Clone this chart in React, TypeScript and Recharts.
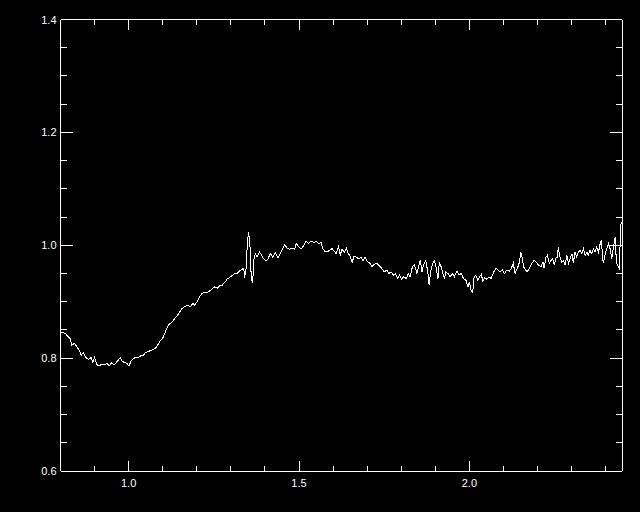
import { LineChart, Line, XAxis, YAxis } from 'recharts';

// reading of the spectrum, split into stretches: [wavelength, ratio]
const blueEdge: [number, number][] = [
  [0.802, 0.846], [0.814, 0.844], [0.821, 0.839], [0.828, 0.835], [0.833, 0.823], [0.841, 0.826],
  [0.848, 0.82], [0.855, 0.814], [0.861, 0.805], [0.867, 0.81], [0.874, 0.801], [0.882, 0.798],
  [0.89, 0.801], [0.895, 0.793], [0.9, 0.802], [0.906, 0.789], [0.913, 0.786], [0.921, 0.789],
  [0.929, 0.788], [0.936, 0.791], [0.943, 0.786], [0.95, 0.792], [0.958, 0.788], [0.965, 0.793],
  [0.975, 0.801], [0.98, 0.795], [0.988, 0.792], [0.994, 0.791], [1.001, 0.786], [1.007, 0.795],
  [1.014, 0.799], [1.021, 0.802], [1.029, 0.801], [1.037, 0.805], [1.043, 0.805], [1.05, 0.81],
  [1.058, 0.812], [1.068, 0.814], [1.078, 0.817], [1.085, 0.823], [1.092, 0.83], [1.099, 0.834],
  [1.105, 0.842], [1.112, 0.853], [1.119, 0.86], [1.126, 0.863], [1.134, 0.869],
];

const rise: [number, number][] = [
  [1.147, 0.879], [1.157, 0.888], [1.167, 0.892], [1.174, 0.894], [1.181, 0.891], [1.188, 0.897],
  [1.194, 0.894], [1.201, 0.9], [1.208, 0.909], [1.216, 0.915], [1.223, 0.917], [1.23, 0.916],
  [1.238, 0.919], [1.245, 0.923], [1.252, 0.926], [1.26, 0.924], [1.267, 0.928], [1.274, 0.929],
  [1.282, 0.934], [1.289, 0.94], [1.299, 0.944], [1.305, 0.947], [1.311, 0.95], [1.318, 0.95],
  [1.325, 0.954], [1.331, 0.957], [1.338, 0.959], [1.34, 0.942], [1.345, 0.959], [1.348, 1.0],
  [1.352, 1.024], [1.356, 1.0], [1.36, 0.941], [1.364, 0.934], [1.368, 0.976], [1.372, 0.985],
  [1.377, 0.979], [1.384, 0.988], [1.389, 0.984], [1.396, 0.976], [1.403, 0.972], [1.409, 0.976],
  [1.416, 0.985], [1.423, 0.979], [1.431, 0.987], [1.438, 0.978], [1.445, 0.985], [1.452, 0.994],
  [1.458, 1.001], [1.465, 0.995], [1.472, 0.993], [1.479, 0.995], [1.487, 0.993],
];

const peak: [number, number][] = [
  [1.492, 1.003], [1.499, 0.997], [1.506, 0.993], [1.514, 1.0], [1.521, 1.007], [1.528, 1.003],
  [1.535, 1.007], [1.543, 1.005], [1.551, 1.007], [1.557, 1.003], [1.565, 1.005], [1.57, 0.994],
  [1.577, 0.988], [1.584, 0.989], [1.59, 0.991], [1.597, 0.994], [1.604, 0.989], [1.609, 0.985],
  [1.616, 0.997], [1.621, 0.982], [1.626, 0.993], [1.633, 0.988], [1.639, 0.995], [1.645, 0.985],
  [1.65, 0.981], [1.656, 0.97], [1.662, 0.981], [1.668, 0.979], [1.675, 0.976], [1.682, 0.979],
  [1.688, 0.973], [1.694, 0.979], [1.699, 0.972], [1.707, 0.969], [1.714, 0.962], [1.721, 0.966],
  [1.729, 0.968], [1.736, 0.963], [1.743, 0.959], [1.75, 0.953], [1.758, 0.956], [1.764, 0.95],
  [1.77, 0.953], [1.777, 0.947], [1.783, 0.95], [1.789, 0.941], [1.795, 0.947], [1.801, 0.94],
  [1.807, 0.944], [1.815, 0.941], [1.821, 0.95],
];

const dip: [number, number][] = [
  [1.826, 0.944], [1.833, 0.962], [1.839, 0.965], [1.846, 0.95], [1.851, 0.962], [1.856, 0.973],
  [1.861, 0.953], [1.865, 0.965], [1.872, 0.973], [1.878, 0.953], [1.882, 0.929], [1.886, 0.953],
  [1.892, 0.968], [1.898, 0.972], [1.903, 0.959], [1.908, 0.941], [1.912, 0.97], [1.917, 0.962],
  [1.921, 0.953], [1.927, 0.941], [1.931, 0.953], [1.937, 0.95], [1.944, 0.944], [1.95, 0.95],
  [1.956, 0.944], [1.963, 0.954], [1.97, 0.947], [1.976, 0.95], [1.983, 0.941], [1.99, 0.938],
  [1.996, 0.926], [2.0, 0.935], [2.005, 0.92], [2.01, 0.917], [2.014, 0.944], [2.019, 0.947],
  [2.025, 0.938], [2.03, 0.944], [2.035, 0.948], [2.04, 0.936], [2.044, 0.942], [2.051, 0.94],
  [2.058, 0.944], [2.064, 0.941], [2.071, 0.952], [2.078, 0.959], [2.084, 0.956], [2.09, 0.953],
  [2.097, 0.956], [2.103, 0.95], [2.11, 0.956], [2.117, 0.954], [2.123, 0.959], [2.129, 0.968],
];

const redEdge: [number, number][] = [
  [2.134, 0.95], [2.141, 0.959], [2.147, 0.97], [2.151, 0.987], [2.155, 0.979], [2.159, 0.962],
  [2.165, 0.956], [2.17, 0.953], [2.176, 0.959], [2.183, 0.968], [2.19, 0.973], [2.196, 0.97],
  [2.203, 0.965], [2.21, 0.962], [2.216, 0.97], [2.219, 0.959], [2.225, 0.979], [2.229, 0.982],
  [2.235, 0.968], [2.239, 0.973], [2.245, 0.976], [2.249, 0.965], [2.255, 0.979], [2.258, 0.979],
  [2.261, 0.996], [2.266, 0.979], [2.271, 0.97], [2.276, 0.973], [2.281, 0.965], [2.286, 0.982],
  [2.291, 0.968], [2.296, 0.976], [2.301, 0.985], [2.305, 0.968], [2.31, 0.988], [2.315, 0.979],
  [2.32, 0.988], [2.325, 0.991], [2.33, 0.985], [2.335, 0.994], [2.34, 0.982], [2.345, 0.988],
  [2.349, 0.982], [2.354, 0.991], [2.359, 0.985], [2.364, 0.994], [2.369, 0.988], [2.374, 0.997],
  [2.379, 0.988], [2.384, 1.003], [2.387, 1.009], [2.39, 0.988], [2.393, 0.968], [2.398, 0.982],
  [2.403, 0.994], [2.408, 1.003], [2.413, 0.994], [2.418, 0.976], [2.423, 0.997], [2.428, 1.015],
  [2.431, 0.976], [2.434, 0.965], [2.437, 0.962], [2.44, 0.959], [2.442, 0.994], [2.445, 1.038],
  [2.447, 1.041],
];

const xTicks = [0.9, 1.0, 1.1, 1.2, 1.3, 1.4, 1.5, 1.6, 1.7, 1.8, 1.9, 2.0, 2.1, 2.2, 2.3, 2.4];
const yTicks = [0.6, 0.65, 0.7, 0.75, 0.8, 0.85, 0.9, 0.95, 1.0, 1.05, 1.1, 1.15, 1.2, 1.25, 1.3, 1.35, 1.4];

const data = [...blueEdge, ...rise, ...peak, ...dip, ...redEdge].map(([x, y]) => ({ x, y }));

const WHITE = '#ffffff';
const FONT = '"Liberation Sans", Arial, sans-serif';

const isMajor = (v: number, step: number) => Math.abs(v / step - Math.round(v / step)) < 1e-6;

function BottomTick(props: any) {
  const { x, y, payload } = props;
  const major = isMajor(payload.value, 0.5);
  return (
    <g>
      <line x1={x} y1={y} x2={x} y2={y - (major ? 10 : 5)} stroke={WHITE} />
      {major && (
        <text x={x} y={y + 16} textAnchor="middle" fill={WHITE} fontSize={11} fontFamily={FONT}>
          {payload.value.toFixed(1)}
        </text>
      )}
    </g>
  );
}

function TopTick(props: any) {
  const { x, y, payload } = props;
  const major = isMajor(payload.value, 0.5);
  return <line x1={x} y1={y} x2={x} y2={y + (major ? 10 : 5)} stroke={WHITE} />;
}

function LeftTick(props: any) {
  const { x, y, payload } = props;
  const major = isMajor(payload.value, 0.2);
  return (
    <g>
      <line x1={x} y1={y} x2={x + (major ? 12 : 6)} y2={y} stroke={WHITE} />
      {major && (
        <text x={x - 4} y={y + 4} textAnchor="end" fill={WHITE} fontSize={11} fontFamily={FONT}>
          {payload.value.toFixed(1)}
        </text>
      )}
    </g>
  );
}

function RightTick(props: any) {
  const { x, y, payload } = props;
  const major = isMajor(payload.value, 0.2);
  return <line x1={x} y1={y} x2={x - (major ? 12 : 6)} y2={y} stroke={WHITE} />;
}

export default function App() {
  return (
    <div style={{ position: 'fixed', left: 0, top: 0, width: 640, height: 512, background: '#000' }}>
      <style>{'.idl path, .idl line { shape-rendering: crispEdges; }'}</style>
      <LineChart
        className="idl"
        width={640}
        height={512}
        data={data}
        margin={{ top: 0.5, right: 0, bottom: 0, left: 0.5 }}
      >
        <XAxis
          dataKey="x"
          type="number"
          domain={[0.8, 2.448]}
          allowDataOverflow
          ticks={xTicks}
          interval={0}
          height={41}
          tickSize={0}
          tickMargin={0}
          tickLine={false}
          axisLine={{ stroke: WHITE }}
          tick={<BottomTick />}
        />
        <XAxis
          xAxisId="top"
          dataKey="x"
          type="number"
          orientation="top"
          domain={[0.8, 2.448]}
          allowDataOverflow
          ticks={xTicks}
          interval={0}
          height={19}
          tickSize={0}
          tickMargin={0}
          tickLine={false}
          axisLine={{ stroke: WHITE }}
          tick={<TopTick />}
        />
        <YAxis
          type="number"
          domain={[0.6, 1.4]}
          allowDataOverflow
          ticks={yTicks}
          interval={0}
          width={60}
          tickSize={0}
          tickMargin={0}
          tickLine={false}
          axisLine={{ stroke: WHITE }}
          tick={<LeftTick />}
        />
        <YAxis
          yAxisId="right"
          type="number"
          orientation="right"
          domain={[0.6, 1.4]}
          allowDataOverflow
          ticks={yTicks}
          interval={0}
          width={18}
          tickSize={0}
          tickMargin={0}
          tickLine={false}
          axisLine={{ stroke: WHITE }}
          tick={<RightTick />}
        />
        <Line
          type="linear"
          dataKey="y"
          stroke={WHITE}
          strokeWidth={1}
          dot={false}
          isAnimationActive={false}
        />
      </LineChart>
    </div>
  );
}
